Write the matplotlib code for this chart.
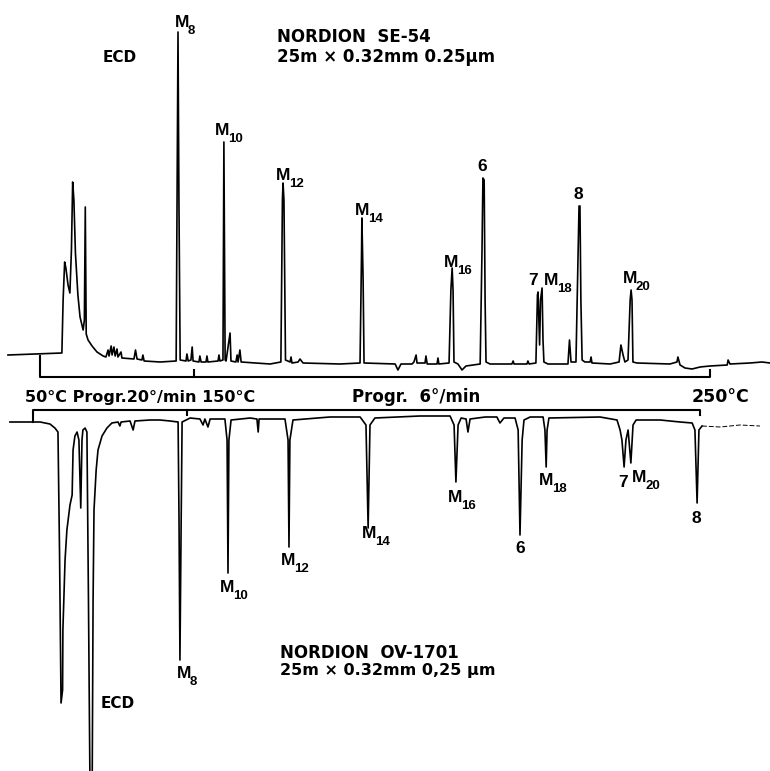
import matplotlib.pyplot as plt

# -----------------------------
# Temperature programme (same for both columns)
# -----------------------------
prog_temps = [50, 150, 250]   # degC
prog_rates = [20, 6]          # degC / min

# -----------------------------
# SE-54 trace: retention time (min) and ECD response (arb. units)
# -----------------------------
se54_t = [-1.04, 0.71, 0.75, 0.80, 0.84, 0.91, 0.97, 1.02, 1.06, 1.10,
          1.15, 1.23, 1.30, 1.40, 1.44, 1.47, 1.50, 1.56, 1.69, 1.85,
          2.05, 2.14, 2.21, 2.24, 2.31, 2.34, 2.40, 2.44, 2.50, 2.53,
          2.63, 2.66, 3.05, 3.10, 3.15, 3.31, 3.34, 3.38, 3.90, 4.42,
          4.46, 4.48, 4.51, 4.55, 4.74, 4.77, 4.81, 4.90, 4.94, 4.97,
          5.16, 5.19, 5.23, 5.39, 5.42, 5.45, 5.78, 5.81, 5.84, 5.94,
          5.97, 6.01, 6.04, 6.17, 6.20, 6.36, 6.40, 6.43, 6.49, 6.53,
          7.47, 7.82, 7.87, 7.89, 7.92, 7.97, 8.12, 8.15, 8.18, 8.38,
          8.44, 8.54, 9.74, 10.39, 10.44, 10.45, 10.49, 10.52, 11.53, 11.62,
          11.72, 12.08, 12.14, 12.21, 12.24, 12.50, 12.53, 12.57, 12.89, 12.92,
          12.95, 13.28, 13.34, 13.38, 13.41, 13.44, 13.57, 13.70, 13.83, 14.29,
          14.35, 14.38, 14.42, 14.45, 14.48, 14.61, 15.32, 15.36, 15.39, 15.81,
          15.84, 15.88, 16.10, 16.15, 16.17, 16.22, 16.25, 16.30, 16.33, 16.36,
          16.49, 17.14, 17.19, 17.24, 17.40, 17.47, 17.50, 17.53, 17.56, 17.60,
          17.69, 17.86, 17.89, 17.92, 18.51, 18.80, 18.86, 18.93, 18.99, 19.09,
          19.16, 19.19, 19.22, 19.25, 19.38, 20.45, 20.68, 20.71, 20.78, 20.94,
          21.17, 21.43, 21.75, 22.31, 22.34, 22.40, 23.05, 23.44, 23.70]
se54_r = [7, 9, 62, 100, 94, 77, 69, 112, 180, 162,
          109, 67, 45, 32, 42, 155, 28, 22, 16, 10,
          6, 5, 12, 6, 16, 7, 15, 6, 13, 5,
          10, 4, 3, 12, 3, 2, 7, 1, 0, 1,
          232, 330, 162, 2, 1, 8, 1, 2, 15, 1,
          0, 6, 0, 0, 6, 0, 1, 7, 1, 2,
          220, 2, 1, 29, 1, 0, 7, 0, 12, 0,
          -2, 0, 162, 179, 162, 2, 0, 5, -1, 0,
          3, -1, -2, -1, 112, 144, 82, -1, -2, -8,
          -2, -2, 0, 7, -1, -1, 6, -2, -2, 4,
          -2, -1, 72, 94, 72, 0, -2, -8, -4, -2,
          112, 184, 182, 62, 0, -2, -2, 1, -2, -2,
          1, -2, -1, 67, 70, 17, 62, 74, 22, 0,
          -2, -2, 22, 0, 0, 112, 156, 156, 62, 2,
          0, 0, 5, -1, -2, 0, 17, 7, 0, 2,
          62, 72, 62, 0, -1, -2, 0, 5, -3, -6,
          -7, -5, -4, -3, 2, -2, -1, 0, -1]

# -----------------------------
# OV-1701 trace (recorded inverted): retention time (min), ECD response
# -----------------------------
ov1701_t = [-0.75, 0.23, 0.55, 0.71, 0.81, 0.86, 0.91, 0.96, 0.97, 1.04,
            1.10, 1.20, 1.27, 1.30, 1.36, 1.43, 1.49, 1.55, 1.59, 1.62,
            1.69, 1.75, 1.80, 1.85, 1.92, 1.95, 1.98, 2.05, 2.11, 2.24,
            2.40, 2.56, 2.76, 2.82, 2.86, 3.15, 3.25, 3.31, 3.80, 4.12,
            4.45, 4.71, 4.74, 4.77, 4.81, 4.84, 5.10, 5.42, 5.52, 5.58,
            5.68, 5.75, 6.23, 6.30, 6.33, 6.36, 6.43, 7.05, 7.27, 7.31,
            7.34, 8.18, 8.28, 8.31, 8.34, 8.44, 9.64, 10.62, 10.81, 10.88,
            10.94, 11.10, 12.56, 13.54, 13.67, 13.73, 13.80, 13.90, 14.06, 14.12,
            14.19, 14.68, 15.06, 15.16, 15.29, 15.65, 15.75, 15.81, 15.88, 15.94,
            16.14, 16.56, 16.62, 16.66, 16.69, 16.75, 18.41, 18.96, 19.06, 19.12,
            19.19, 19.25, 19.32, 19.41, 19.48, 19.58, 20.36, 21.01, 21.40, 21.49,
            21.56, 21.62, 21.72]
ov1701_r = [4, 4, 6, 10, 14, 132, 285, 272, 212, 142,
            112, 87, 77, 32, 18, 14, 22, 90, 22, 12,
            10, 14, 182, 372, 372, 182, 92, 52, 32, 18,
            10, 5, 4, 8, 4, 3, 12, 3, 2, 2,
            3, 4, 102, 242, 102, 4, 0, 1, 7, 1,
            9, 1, 1, 22, 155, 22, 2, 0, 1, 14,
            1, 1, 22, 129, 22, 2, -1, -1, 7, 110,
            7, 0, -2, -2, 7, 64, 7, 0, 1, 14,
            1, -1, -1, 5, 0, 0, 12, 117, 22, 2,
            -1, -1, 12, 49, 12, 0, -1, 2, 12, 22,
            49, 22, 12, 45, 7, 2, 2, 4, 5, 12,
            85, 12, 8]
# faint tail after the last peak
ov1701_tail_t = [21.72, 22.31, 22.95, 23.60]
ov1701_tail_r = [8, 9, 7, 8]

# -----------------------------
# Peak labels (name + subscript)
# -----------------------------
se54_lab_main = ["M", "M", "M", "M", "M", "6", "7", "M", "8", "M"]
se54_lab_sub = ["8", "10", "12", "14", "16", "", "", "18", "", "20"]
ov1701_lab_main = ["M", "M", "M", "M", "M", "6", "M", "7", "M", "8"]
ov1701_lab_sub = ["8", "10", "12", "14", "16", "", "18", "", "20", ""]

# label anchor points on the page (pixels, left / baseline)
se54_label_pos = [(175, 27), (215, 135), (276, 180), (355, 215), (444, 267),
                  (477, 171), (528, 285), (544, 285), (574, 199), (623, 283)]
ov1701_label_pos = [(177, 678), (220, 592), (281, 565), (362, 538), (448, 502),
                    (515, 553), (539, 485), (618, 487), (632, 482), (692, 523)]

# -----------------------------
# Layout
# -----------------------------
W, H = 770, 771
top_base = 409       # baseline of SE-54 trace (y up, px)
bot_base = 353       # baseline of OV-1701 trace
bot_shift = -0.227   # pen offset of the lower recording (min)

fig = plt.figure(figsize=(W / 100, H / 100), dpi=100)
ax = fig.add_axes([0, 0, 1, 1])
ax.set_xlim(-1.299, 23.70)
ax.set_ylim(0, H)
ax.axis('off')


def fpos(x, y):
    return x / W, 1 - y / H


# traces
ax.plot(se54_t, [top_base + r for r in se54_r], color='black', lw=1.2)
ax.plot([t + bot_shift for t in ov1701_t], [bot_base - r for r in ov1701_r],
        color='black', lw=1.2)
ax.plot([t + bot_shift for t in ov1701_tail_t], [bot_base - r for r in ov1701_tail_r],
        color='black', lw=0.7, ls=(0, (5, 2)))

# temperature programme brackets
prog_t = [0.0]
for i, rate in enumerate(prog_rates):
    prog_t.append(prog_t[-1] + (prog_temps[i + 1] - prog_temps[i]) / rate)

yb = 394
ax.plot([prog_t[0], prog_t[0], prog_t[-1] + 0.1, prog_t[-1] + 0.1],
        [top_base + 6, yb, yb, yb + 7], color='black', lw=1.5)
ax.plot([prog_t[1], prog_t[1]], [yb, yb + 7], color='black', lw=1.5)

yb2 = 361
t2 = [t + bot_shift for t in prog_t]
ax.plot([t2[0], t2[0], t2[-1], t2[-1]],
        [bot_base - 4, yb2, yb2, yb2 - 5], color='black', lw=1.5)
ax.plot([t2[1], t2[1]], [yb2, yb2 - 5], color='black', lw=1.5)

txt = dict(color='black', fontweight='bold', family='DejaVu Sans',
           ha='left', va='baseline')
fig.text(*fpos(25, 402), "%d°C Progr.%d°/min %d°C" % (prog_temps[0], prog_rates[0], prog_temps[1]),
         fontsize=11.5, **txt)
fig.text(*fpos(352, 402), "Progr.  %d°/min" % prog_rates[1], fontsize=12, **txt)
fig.text(*fpos(692, 402), "%d°C" % prog_temps[2], fontsize=12.5, **txt)

# column annotations
fig.text(*fpos(103, 62), "ECD", fontsize=11, **txt)
fig.text(*fpos(277, 42), "NORDION  SE-54", fontsize=12, **txt)
fig.text(*fpos(277, 62), "25m × 0.32mm 0.25µm", fontsize=12, **txt)
fig.text(*fpos(101, 708), "ECD", fontsize=11, **txt)
fig.text(*fpos(280, 658), "NORDION  OV-1701", fontsize=12, **txt)
fig.text(*fpos(280, 675), "25m × 0.32mm 0,25 µm", fontsize=11.5, **txt)

lab = dict(color='black', fontweight='bold', family='Liberation Sans',
           ha='left', va='baseline')


def peak_label(main, sub, x, y):
    fig.text(*fpos(x, y), main, fontsize=12.5, **lab)
    if sub:
        fig.text(*fpos(x + 13, y + 7), sub, fontsize=9.5, **lab)


for m, s, (x, y) in zip(se54_lab_main, se54_lab_sub, se54_label_pos):
    peak_label(m, s, x, y)
for m, s, (x, y) in zip(ov1701_lab_main, ov1701_lab_sub, ov1701_label_pos):
    peak_label(m, s, x, y)

fig.savefig("out.png", dpi=100, facecolor='white')
